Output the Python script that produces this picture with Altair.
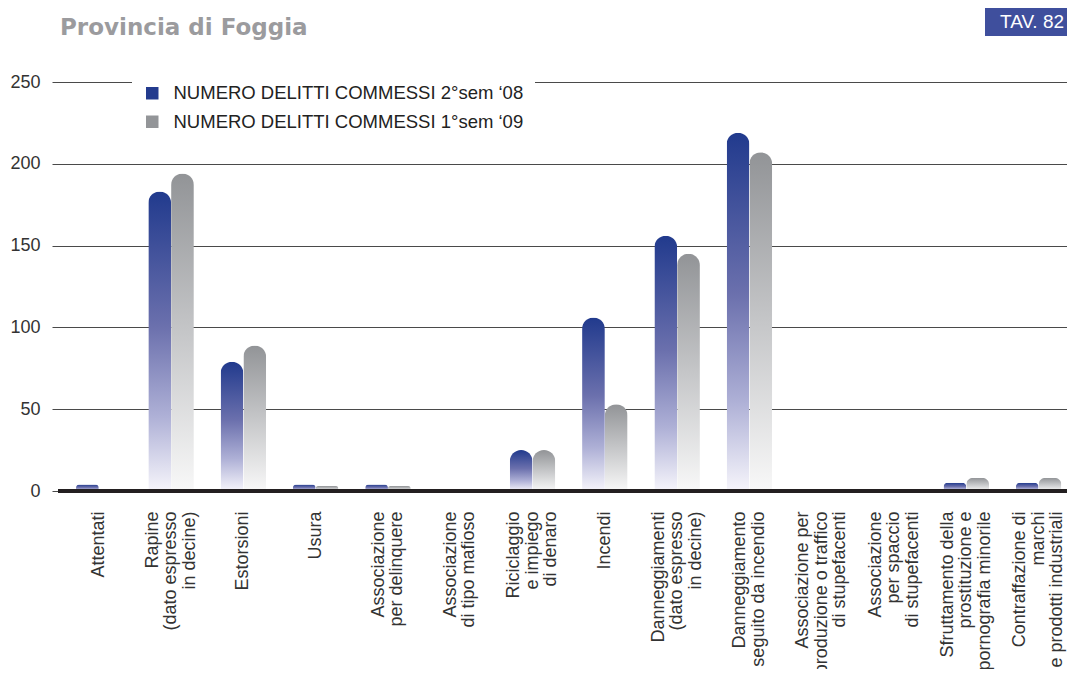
import altair as alt
import pandas as pd

# ---- data ----
categories = [
    "Attentati",
    "Rapine|(dato espresso|in decine)",
    "Estorsioni",
    "Usura",
    "Associazione|per delinquere",
    "Associazione|di tipo mafioso",
    "Riciclaggio|e impiego|di denaro",
    "Incendi",
    "Danneggiamenti|(dato espresso|in decine)",
    "Danneggiamento|seguito da incendio",
    "Associazione per|produzione o traffico|di stupefacenti",
    "Associazione|per spaccio|di stupefacenti",
    "Sfruttamento della|prostituzione e|pornografia minorile",
    "Contraffazione di|marchi|e prodotti industriali",
]
series_names = [
    "NUMERO DELITTI COMMESSI 2°sem \u201808",
    "NUMERO DELITTI COMMESSI 1°sem \u201809",
]
sem2_08 = [4, 183, 79, 4, 4, 0, 25, 106, 156, 219, 0, 0, 5, 5]
sem1_09 = [0, 194, 89, 3, 3, 0, 25, 53, 145, 207, 0, 0, 8, 8]
y_ticks = [0, 50, 100, 150, 200, 250]

title_text = "Provincia di Foggia"
tav_text = "TAV. 82"

rows = []
for i, c in enumerate(categories):
    rows.append({"cat": c, "serie": series_names[0], "val": sem2_08[i]})
    rows.append({"cat": c, "serie": series_names[1], "val": sem1_09[i]})
df = pd.DataFrame(rows)

FONT = "Liberation Sans"
BLUE = "#233b8e"
GRAY = "#939598"
LH = 18.5

grad_blue = {
    "gradient": "linear", "x1": 0, "x2": 0, "y1": 0, "y2": 1,
    "stops": [
        {"offset": 0, "color": "#213a8d"},
        {"offset": 0.45, "color": "#6b70ad"},
        {"offset": 0.75, "color": "#aeb0d6"},
        {"offset": 1, "color": "#f6f5fb"},
    ],
}
grad_gray = {
    "gradient": "linear", "x1": 0, "x2": 0, "y1": 0, "y2": 1,
    "stops": [
        {"offset": 0, "color": "#929497"},
        {"offset": 0.5, "color": "#c5c6c8"},
        {"offset": 1, "color": "#f8f8f8"},
    ],
}

nlines = "length(split(datum.value, '|'))"
label_offset = {
    "condition": [
        {"test": f"{nlines} == 3", "value": -LH},
        {"test": f"{nlines} == 2", "value": -LH / 2},
    ],
    "value": 0,
}

x_enc = alt.X(
    "cat:N",
    sort=categories,
    scale=alt.Scale(paddingInner=0.37, paddingOuter=0.205, align=0.81),
    axis=alt.Axis(
        title=None, ticks=False, domain=False, grid=False,
        labelAngle=270, labelAlign="right", labelBaseline="middle",
        labelPadding=20, labelFontSize=18, labelFont=FONT, labelColor="#333333",
        labelLineHeight=LH, labelExpr="split(datum.label, '|')",
        labelLimit=400, labelOverlap=False, labelOffset=label_offset,
    ),
)
xoff_enc = alt.XOffset(
    "serie:N", sort=series_names,
    scale=alt.Scale(domain=series_names, paddingInner=0, paddingOuter=0),
)
y_enc = alt.Y(
    "val:Q",
    scale=alt.Scale(domain=[0, 250], nice=False),
    axis=alt.Axis(
        title=None, values=y_ticks, grid=True, gridColor="#4a4a4a", gridWidth=1,
        domain=False, ticks=False, labelPadding=12, labelFontSize=18,
        labelFont=FONT, labelColor="#333333",
    ),
)

base = alt.Chart(df).encode(x=x_enc, xOffset=xoff_enc, y=y_enc)

r = 11.4
bars_blue = base.transform_filter(alt.datum.serie == series_names[0]).mark_bar(
    fill=grad_blue, cornerRadiusTopLeft=r, cornerRadiusTopRight=r, strokeWidth=0
)
bars_gray = base.transform_filter(alt.datum.serie == series_names[1]).mark_bar(
    fill=grad_gray, cornerRadiusTopLeft=r, cornerRadiusTopRight=r, strokeWidth=0
)
legend_layer = base.mark_bar(opacity=0).encode(
    color=alt.Color(
        "serie:N",
        scale=alt.Scale(domain=series_names, range=[BLUE, GRAY]),
        legend=alt.Legend(
            orient="none", legendX=80, legendY=-9, title=None,
            fillColor="white", padding=11, symbolType="square", symbolSize=156,
            symbolStrokeWidth=0, labelFontSize=18.5, labelFont=FONT,
            labelColor="#222222", labelOffset=12, rowPadding=9.5, labelLimit=600,
        ),
    )
)

baseline = alt.Chart(pd.DataFrame({"z": [0]})).mark_rule(
    color="#231f20", strokeWidth=4
).encode(y=alt.datum(0), x=alt.value(6), x2=alt.value(1015))

title_layer = alt.Chart(pd.DataFrame({"t": [title_text]})).mark_text(
    align="left", baseline="alphabetic", font="DejaVu Sans", fontWeight="bold",
    fontSize=23, color="#9b9b9e"
).encode(x=alt.value(8), y=alt.value(-47), text="t:N")

tav_box = alt.Chart(pd.DataFrame({"t": [tav_text]})).mark_rect(color="#3f4f9d").encode(
    x=alt.value(933), x2=alt.value(1015), y=alt.value(-75), y2=alt.value(-46)
)
tav_label = alt.Chart(pd.DataFrame({"t": [tav_text]})).mark_text(
    align="center", baseline="middle", font=FONT, fontSize=19, color="white"
).encode(x=alt.value(980), y=alt.value(-60), text="t:N")

chart = alt.layer(
    legend_layer, bars_blue, bars_gray, baseline, title_layer, tav_box, tav_label
).properties(
    width=1015, height=409,
    autosize=alt.AutoSizeParams(type="none"),
    padding={"left": 44, "top": 74, "right": 0, "bottom": 178},
    background="white",
).configure_view(stroke=None)

chart.save("out.html", embed_options={"renderer": "svg", "actions": False})
